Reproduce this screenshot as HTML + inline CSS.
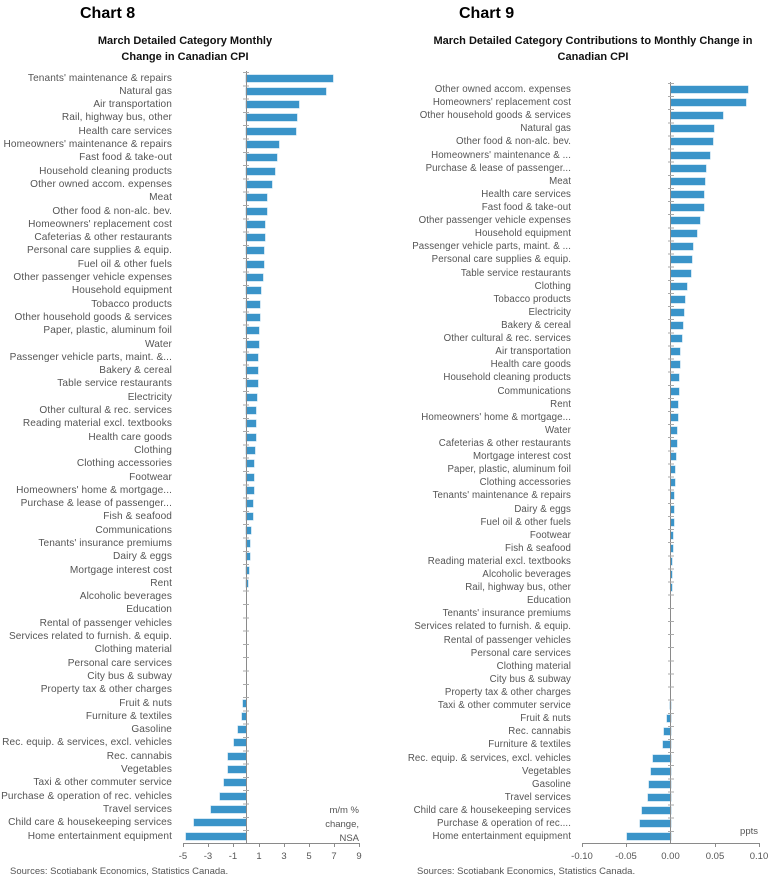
<!DOCTYPE html>
<html><head><meta charset="utf-8"><style>
body{margin:0;width:779px;height:887px;background:#fff;position:relative;overflow:hidden;font-family:"Liberation Sans",sans-serif;color:#555}
.a{position:absolute}
.t{font-weight:bold;font-size:16px;color:#000}
.st{font-weight:bold;font-size:11px;color:#111;text-align:center;line-height:16px}
.c{position:absolute;left:0;width:779px}
.r{position:relative;white-space:nowrap}
.c8 .r{height:13.3px}.c9 .r{height:13.12px}
.r span{position:absolute;line-height:13px;text-align:right;letter-spacing:0.1px}
.c8 .r span{right:607px;font-size:10.1px}.c9 .r span{right:208px;font-size:9.7px}
.r i{position:absolute;top:3px;height:7px;background:#3a94c9;box-shadow:0 0 0 .5px #a8d0ea}
.ax{position:absolute;background:#8a8a8a}
.tl{position:absolute;font-size:9.5px;width:40px;text-align:center;top:851px}
.ticks{position:absolute;width:6px}
</style></head><body>
<div class="a t" style="left:80px;top:5px">Chart 8</div>
<div class="a t" style="left:459px;top:5px">Chart 9</div>
<div class="a st" style="left:60px;top:33px;width:250px">March Detailed Category Monthly<br>Change in Canadian CPI</div>
<div class="a st" style="left:412px;top:33px;width:362px">March Detailed Category Contributions to Monthly Change in<br>Canadian CPI</div>

<div class="c c8" style="top:71.6px">
<div class="r"><span>Tenants' maintenance &amp; repairs</span><i style="left:246px;width:87px"></i></div>
<div class="r"><span>Natural gas</span><i style="left:246px;width:80px"></i></div>
<div class="r"><span>Air transportation</span><i style="left:246px;width:53px"></i></div>
<div class="r"><span>Rail, highway bus, other</span><i style="left:246px;width:51px"></i></div>
<div class="r"><span>Health care services</span><i style="left:246px;width:50px"></i></div>
<div class="r"><span>Homeowners' maintenance &amp; repairs</span><i style="left:246px;width:33px"></i></div>
<div class="r"><span>Fast food &amp; take-out</span><i style="left:246px;width:31px"></i></div>
<div class="r"><span>Household cleaning products</span><i style="left:246px;width:29px"></i></div>
<div class="r"><span>Other owned accom. expenses</span><i style="left:246px;width:26px"></i></div>
<div class="r"><span>Meat</span><i style="left:246px;width:21px"></i></div>
<div class="r"><span>Other food &amp; non-alc. bev.</span><i style="left:246px;width:21px"></i></div>
<div class="r"><span>Homeowners' replacement cost</span><i style="left:246px;width:19px"></i></div>
<div class="r"><span>Cafeterias &amp; other restaurants</span><i style="left:246px;width:18.5px"></i></div>
<div class="r"><span>Personal care supplies &amp; equip.</span><i style="left:246px;width:18px"></i></div>
<div class="r"><span>Fuel oil &amp; other fuels</span><i style="left:246px;width:17.5px"></i></div>
<div class="r"><span>Other passenger vehicle expenses</span><i style="left:246px;width:17px"></i></div>
<div class="r"><span>Household equipment</span><i style="left:246px;width:15px"></i></div>
<div class="r"><span>Tobacco products</span><i style="left:246px;width:14px"></i></div>
<div class="r"><span>Other household goods &amp; services</span><i style="left:246px;width:13.5px"></i></div>
<div class="r"><span>Paper, plastic, aluminum foil</span><i style="left:246px;width:13px"></i></div>
<div class="r"><span>Water</span><i style="left:246px;width:13px"></i></div>
<div class="r"><span>Passenger vehicle parts, maint. &amp;...</span><i style="left:246px;width:12px"></i></div>
<div class="r"><span>Bakery &amp; cereal</span><i style="left:246px;width:11.5px"></i></div>
<div class="r"><span>Table service restaurants</span><i style="left:246px;width:11.5px"></i></div>
<div class="r"><span>Electricity</span><i style="left:246px;width:11px"></i></div>
<div class="r"><span>Other cultural &amp; rec. services</span><i style="left:246px;width:10px"></i></div>
<div class="r"><span>Reading material excl. textbooks</span><i style="left:246px;width:10px"></i></div>
<div class="r"><span>Health care goods</span><i style="left:246px;width:9.5px"></i></div>
<div class="r"><span>Clothing</span><i style="left:246px;width:9px"></i></div>
<div class="r"><span>Clothing accessories</span><i style="left:246px;width:8px"></i></div>
<div class="r"><span>Footwear</span><i style="left:246px;width:7.5px"></i></div>
<div class="r"><span>Homeowners' home &amp; mortgage...</span><i style="left:246px;width:7.5px"></i></div>
<div class="r"><span>Purchase &amp; lease of passenger...</span><i style="left:246px;width:7px"></i></div>
<div class="r"><span>Fish &amp; seafood</span><i style="left:246px;width:6.5px"></i></div>
<div class="r"><span>Communications</span><i style="left:246px;width:5px"></i></div>
<div class="r"><span>Tenants' insurance premiums</span><i style="left:246px;width:4px"></i></div>
<div class="r"><span>Dairy &amp; eggs</span><i style="left:246px;width:3.5px"></i></div>
<div class="r"><span>Mortgage interest cost</span><i style="left:246px;width:2.5px"></i></div>
<div class="r"><span>Rent</span><i style="left:246px;width:2px"></i></div>
<div class="r"><span>Alcoholic beverages</span></div>
<div class="r"><span>Education</span></div>
<div class="r"><span>Rental of passenger vehicles</span></div>
<div class="r"><span>Services related to furnish. &amp; equip.</span></div>
<div class="r"><span>Clothing material</span></div>
<div class="r"><span>Personal care services</span></div>
<div class="r"><span>City bus &amp; subway</span></div>
<div class="r"><span>Property tax &amp; other charges</span></div>
<div class="r"><span>Fruit &amp; nuts</span><i style="left:242.5px;width:3.5px"></i></div>
<div class="r"><span>Furniture &amp; textiles</span><i style="left:241.5px;width:4.5px"></i></div>
<div class="r"><span>Gasoline</span><i style="left:237.5px;width:8.5px"></i></div>
<div class="r"><span>Rec. equip. &amp; services, excl. vehicles</span><i style="left:233.5px;width:12.5px"></i></div>
<div class="r"><span>Rec. cannabis</span><i style="left:228px;width:18px"></i></div>
<div class="r"><span>Vegetables</span><i style="left:227.5px;width:18.5px"></i></div>
<div class="r"><span>Taxi &amp; other commuter service</span><i style="left:223.5px;width:22.5px"></i></div>
<div class="r"><span>Purchase &amp; operation of rec. vehicles</span><i style="left:220px;width:26px"></i></div>
<div class="r"><span>Travel services</span><i style="left:211px;width:35px"></i></div>
<div class="r"><span>Child care &amp; housekeeping services</span><i style="left:194px;width:52px"></i></div>
<div class="r"><span>Home entertainment equipment</span><i style="left:186px;width:60px"></i></div>
</div>

<div class="c c9" style="top:83px">
<div class="r"><span>Other owned accom. expenses</span><i style="left:670.5px;width:77px"></i></div>
<div class="r"><span>Homeowners' replacement cost</span><i style="left:670.5px;width:75.5px"></i></div>
<div class="r"><span>Other household goods &amp; services</span><i style="left:670.5px;width:52px"></i></div>
<div class="r"><span>Natural gas</span><i style="left:670.5px;width:43.5px"></i></div>
<div class="r"><span>Other food &amp; non-alc. bev.</span><i style="left:670.5px;width:42.5px"></i></div>
<div class="r"><span>Homeowners' maintenance &amp; ...</span><i style="left:670.5px;width:39.5px"></i></div>
<div class="r"><span>Purchase &amp; lease of passenger...</span><i style="left:670.5px;width:35.5px"></i></div>
<div class="r"><span>Meat</span><i style="left:670.5px;width:34.5px"></i></div>
<div class="r"><span>Health care services</span><i style="left:670.5px;width:33.5px"></i></div>
<div class="r"><span>Fast food &amp; take-out</span><i style="left:670.5px;width:33px"></i></div>
<div class="r"><span>Other passenger vehicle expenses</span><i style="left:670.5px;width:29px"></i></div>
<div class="r"><span>Household equipment</span><i style="left:670.5px;width:26.5px"></i></div>
<div class="r"><span>Passenger vehicle parts, maint. &amp; ...</span><i style="left:670.5px;width:22px"></i></div>
<div class="r"><span>Personal care supplies &amp; equip.</span><i style="left:670.5px;width:21px"></i></div>
<div class="r"><span>Table service restaurants</span><i style="left:670.5px;width:20px"></i></div>
<div class="r"><span>Clothing</span><i style="left:670.5px;width:16px"></i></div>
<div class="r"><span>Tobacco products</span><i style="left:670.5px;width:14px"></i></div>
<div class="r"><span>Electricity</span><i style="left:670.5px;width:13.5px"></i></div>
<div class="r"><span>Bakery &amp; cereal</span><i style="left:670.5px;width:12px"></i></div>
<div class="r"><span>Other cultural &amp; rec. services</span><i style="left:670.5px;width:11.5px"></i></div>
<div class="r"><span>Air transportation</span><i style="left:670.5px;width:9.5px"></i></div>
<div class="r"><span>Health care goods</span><i style="left:670.5px;width:9px"></i></div>
<div class="r"><span>Household cleaning products</span><i style="left:670.5px;width:8.5px"></i></div>
<div class="r"><span>Communications</span><i style="left:670.5px;width:8.5px"></i></div>
<div class="r"><span>Rent</span><i style="left:670.5px;width:7.5px"></i></div>
<div class="r"><span>Homeowners' home &amp; mortgage...</span><i style="left:670.5px;width:7px"></i></div>
<div class="r"><span>Water</span><i style="left:670.5px;width:6.5px"></i></div>
<div class="r"><span>Cafeterias &amp; other restaurants</span><i style="left:670.5px;width:6.5px"></i></div>
<div class="r"><span>Mortgage interest cost</span><i style="left:670.5px;width:5.5px"></i></div>
<div class="r"><span>Paper, plastic, aluminum foil</span><i style="left:670.5px;width:4.5px"></i></div>
<div class="r"><span>Clothing accessories</span><i style="left:670.5px;width:4px"></i></div>
<div class="r"><span>Tenants' maintenance &amp; repairs</span><i style="left:670.5px;width:3.5px"></i></div>
<div class="r"><span>Dairy &amp; eggs</span><i style="left:670.5px;width:3.5px"></i></div>
<div class="r"><span>Fuel oil &amp; other fuels</span><i style="left:670.5px;width:3px"></i></div>
<div class="r"><span>Footwear</span><i style="left:670.5px;width:2.5px"></i></div>
<div class="r"><span>Fish &amp; seafood</span><i style="left:670.5px;width:2px"></i></div>
<div class="r"><span>Reading material excl. textbooks</span><i style="left:670.5px;width:1.5px"></i></div>
<div class="r"><span>Alcoholic beverages</span><i style="left:670.5px;width:1.5px"></i></div>
<div class="r"><span>Rail, highway bus, other</span><i style="left:670.5px;width:1px"></i></div>
<div class="r"><span>Education</span></div>
<div class="r"><span>Tenants' insurance premiums</span></div>
<div class="r"><span>Services related to furnish. &amp; equip.</span></div>
<div class="r"><span>Rental of passenger vehicles</span></div>
<div class="r"><span>Personal care services</span></div>
<div class="r"><span>Clothing material</span></div>
<div class="r"><span>City bus &amp; subway</span></div>
<div class="r"><span>Property tax &amp; other charges</span></div>
<div class="r"><span>Taxi &amp; other commuter service</span><i style="left:669.5px;width:1px"></i></div>
<div class="r"><span>Fruit &amp; nuts</span><i style="left:667px;width:3.5px"></i></div>
<div class="r"><span>Rec. cannabis</span><i style="left:664px;width:6.5px"></i></div>
<div class="r"><span>Furniture &amp; textiles</span><i style="left:663px;width:7.5px"></i></div>
<div class="r"><span>Rec. equip. &amp; services, excl. vehicles</span><i style="left:653px;width:17.5px"></i></div>
<div class="r"><span>Vegetables</span><i style="left:651px;width:19.5px"></i></div>
<div class="r"><span>Gasoline</span><i style="left:649px;width:21.5px"></i></div>
<div class="r"><span>Travel services</span><i style="left:648px;width:22.5px"></i></div>
<div class="r"><span>Child care &amp; housekeeping services</span><i style="left:642px;width:28.5px"></i></div>
<div class="r"><span>Purchase &amp; operation of rec....</span><i style="left:640px;width:30.5px"></i></div>
<div class="r"><span>Home entertainment equipment</span><i style="left:627px;width:43.5px"></i></div>
</div>

<!-- chart 8 axes -->
<div class="ax" style="left:245.5px;top:71px;width:1px;height:772px"></div>
<div class="ticks" style="left:243px;top:71.6px;height:771.4px;background:repeating-linear-gradient(to bottom,#aaa 0,#aaa 1px,transparent 1px,transparent 13.3px)"></div>
<div class="ax" style="left:183px;top:842.5px;width:176px;height:1px"></div>
<div class="ax" style="left:183px;top:842.5px;width:1px;height:4px"></div>
<div class="ax" style="left:208px;top:842.5px;width:1px;height:4px"></div>
<div class="ax" style="left:233px;top:842.5px;width:1px;height:4px"></div>
<div class="ax" style="left:258.5px;top:842.5px;width:1px;height:4px"></div>
<div class="ax" style="left:283.5px;top:842.5px;width:1px;height:4px"></div>
<div class="ax" style="left:308.5px;top:842.5px;width:1px;height:4px"></div>
<div class="ax" style="left:334px;top:842.5px;width:1px;height:4px"></div>
<div class="ax" style="left:358.5px;top:842.5px;width:1px;height:4px"></div>
<div class="tl" style="left:163px">-5</div>
<div class="tl" style="left:188px">-3</div>
<div class="tl" style="left:213px">-1</div>
<div class="tl" style="left:239px">1</div>
<div class="tl" style="left:264px">3</div>
<div class="tl" style="left:289px">5</div>
<div class="tl" style="left:314px">7</div>
<div class="tl" style="left:339px">9</div>
<div class="a" style="left:300px;top:804px;width:59px;text-align:right;font-size:9.5px;line-height:14px">m/m %<br>change,<br>NSA</div>
<div class="a" style="left:10px;top:866px;font-size:9.5px">Sources: Scotiabank Economics, Statistics Canada.</div>

<!-- chart 9 axes -->
<div class="ax" style="left:670px;top:82px;width:1px;height:761px"></div>
<div class="ticks" style="left:667.5px;top:83px;height:760px;background:repeating-linear-gradient(to bottom,#aaa 0,#aaa 1px,transparent 1px,transparent 13.12px)"></div>
<div class="ax" style="left:581.5px;top:842.5px;width:178px;height:1px"></div>
<div class="ax" style="left:581.5px;top:842.5px;width:1px;height:4px"></div>
<div class="ax" style="left:626px;top:842.5px;width:1px;height:4px"></div>
<div class="ax" style="left:714.5px;top:842.5px;width:1px;height:4px"></div>
<div class="ax" style="left:759px;top:842.5px;width:1px;height:4px"></div>
<div class="tl" style="left:562px">-0.10</div>
<div class="tl" style="left:606px">-0.05</div>
<div class="tl" style="left:650.5px">0.00</div>
<div class="tl" style="left:695px">0.05</div>
<div class="tl" style="left:739px">0.10</div>
<div class="a" style="left:720px;top:826px;width:38px;text-align:right;font-size:9.5px">ppts</div>
<div class="a" style="left:417px;top:866px;font-size:9.5px">Sources: Scotiabank Economics, Statistics Canada.</div>
</body></html>
